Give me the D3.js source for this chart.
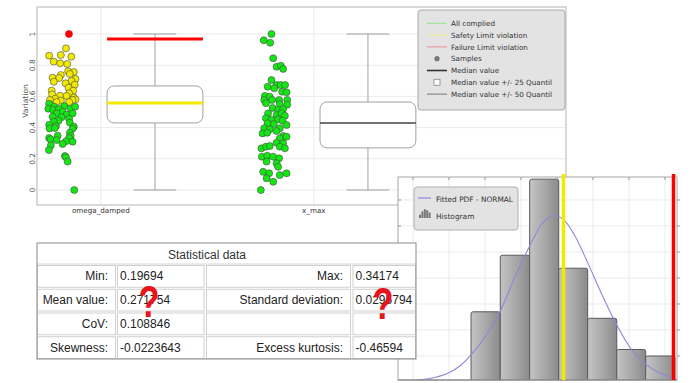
<!DOCTYPE html>
<html>
<head>
<meta charset="utf-8">
<script src="https://cdn.jsdelivr.net/npm/d3@7"></script>
<style>
  html, body { margin: 0; padding: 0; background: #fff; }
  svg { display: block; }
</style>
</head>
<body>
<svg id="chart" width="692" height="383"></svg>
<script>
// ─── Data ────────────────────────────────────────────────────────────────────
const categories = ['omega_damped', 'x_max'];

// samples per variable, jitter is the horizontal spread in category units
const omegaValues = [1.000, 0.908, 0.861, 0.865, 0.855, 0.823, 0.812, 0.808, 0.761, 0.756, 0.744, 0.737,
  0.720, 0.718, 0.712, 0.699, 0.694, 0.684, 0.675, 0.656, 0.637, 0.637, 0.620, 0.613, 0.605, 0.603, 0.594,
  0.585, 0.581, 0.577, 0.573, 0.577, 0.564, 0.564, 0.553, 0.534, 0.538, 0.521, 0.513, 0.519, 0.521, 0.534,
  0.502, 0.491, 0.483, 0.491, 0.470, 0.466, 0.457, 0.444, 0.438, 0.432, 0.419, 0.410, 0.406, 0.395, 0.397,
  0.393, 0.367, 0.346, 0.348, 0.333, 0.325, 0.333, 0.312, 0.310, 0.320, 0.295, 0.286, 0.256, 0.218, 0.210,
  0.182, 0.000];
const omegaJitter = [-0.150, -0.164, -0.243, -0.188, -0.139, -0.222, -0.191, -0.158, -0.154, -0.127, -0.146, -0.188,
  -0.227, -0.196, -0.119, -0.138, -0.221, -0.166, -0.123, -0.152, -0.231, -0.130, -0.149, -0.229, -0.192, -0.161, -0.127,
  -0.215, -0.119, -0.239, -0.188, -0.133, -0.208, -0.149, -0.243, -0.219, -0.172, -0.247, -0.224, -0.197, -0.142, -0.121,
  -0.180, -0.208, -0.161, -0.133, -0.227, -0.185, -0.149, -0.199, -0.221, -0.146, -0.243, -0.211, -0.127, -0.241, -0.216,
  -0.133, -0.146, -0.142, -0.203, -0.243, -0.236, -0.149, -0.164, -0.133, -0.208, -0.180, -0.235, -0.244, -0.169, -0.164,
  -0.156, -0.125];

const xmaxValues = [1.000, 0.960, 0.944, 0.844, 0.790, 0.797, 0.776, 0.705, 0.662, 0.673, 0.673, 0.673, 0.652,
  0.630, 0.626, 0.603, 0.598, 0.577, 0.577, 0.577, 0.577, 0.556, 0.551, 0.547, 0.526, 0.513, 0.519, 0.491, 0.481,
  0.491, 0.476, 0.460, 0.449, 0.453, 0.444, 0.428, 0.423, 0.417, 0.396, 0.389, 0.396, 0.378, 0.363, 0.367, 0.346,
  0.342, 0.331, 0.303, 0.299, 0.267, 0.278, 0.282, 0.278, 0.267, 0.214, 0.220, 0.214, 0.203, 0.182, 0.171, 0.149,
  0.117, 0.107, 0.096, 0.107, 0.075, 0.053, 0.000];
const xmaxJitter = [-0.199, -0.235, -0.205, -0.191, -0.175, -0.155, -0.144, -0.199, -0.217, -0.175, -0.156, -0.135, -0.186,
  -0.149, -0.128, -0.230, -0.207, -0.233, -0.196, -0.163, -0.125, -0.225, -0.160, -0.125, -0.194, -0.168, -0.144, -0.215, -0.175,
  -0.152, -0.136, -0.225, -0.199, -0.168, -0.147, -0.217, -0.188, -0.128, -0.233, -0.207, -0.160, -0.175, -0.241, -0.219, -0.144,
  -0.128, -0.160, -0.175, -0.144, -0.246, -0.225, -0.207, -0.160, -0.136, -0.244, -0.219, -0.191, -0.163, -0.222, -0.175, -0.168,
  -0.238, -0.210, -0.160, -0.128, -0.222, -0.191, -0.249];

const boxLow    = [0.000, 0.000];
const boxQ1     = [0.430, 0.270];
const boxMedian = [0.558, 0.430];
const boxQ3     = [0.667, 0.564];
const boxHigh   = [1.000, 1.000];
const safetyLimit  = [0.556, null];
const failureLimit = [0.968, null];

const yTicks = [0, 0.2, 0.4, 0.6, 0.8, 1];

const legendLabels = ['All complied', 'Safety Limit violation', 'Failure Limit violation', 'Samples',
  'Median value', 'Median value +/- 25 Quantil', 'Median value +/- 50 Quantil'];

// histogram (density) + fitted normal PDF
const histEdges   = [0.1903, 0.2106, 0.2310, 0.2512, 0.2713, 0.2915, 0.3116, 0.3319];
const histDensity = [5.4, 9.75, 15.6, 8.75, 4.9, 2.5, 2.0];
const pdfX = [0.1500, 0.1618, 0.1745, 0.1826, 0.1903, 0.2000, 0.2106, 0.2208, 0.2310, 0.2394, 0.2479,
  0.2556, 0.2625, 0.2713, 0.2810, 0.2915, 0.3019, 0.3116, 0.3227, 0.3326];
const pdfY = [0.12, 0.27, 0.69, 1.23, 2.08, 3.46, 5.46, 8.08, 10.46, 12.15, 12.81,
  12.38, 11.23, 9.18, 6.77, 4.38, 2.46, 1.38, 0.62, 0.27];
const histSafety  = 0.2545;
const histFailure = 0.3309;
const histXTicks = [0.15, 0.175, 0.2, 0.225, 0.25, 0.275, 0.3, 0.325];
const histYTicks = [2, 4, 6, 8, 10, 12, 14];
const histLegend = ['Fitted PDF - NORMAL', 'Histogram'];

// statistics table
const statTitle  = 'Statistical data';
const statLeftLabels  = ['Min:', 'Mean value:', 'CoV:', 'Skewness:'];
const statLeftValues  = ['0.19694', '0.271754', '0.108846', '-0.0223643'];
const statRightLabels = ['Max:', 'Standard deviation:', '', 'Excess kurtosis:'];
const statRightValues = ['0.34174', '0.0295794', '', '-0.46594'];

// ─── Palette ─────────────────────────────────────────────────────────────────
const C = {
  green:   '#14e614',
  yellow:  '#f2ea00',
  red:     '#ff0000',
  grid:    '#ebebeb',
  frame:   '#b4b4b4',
  boxLine: '#a0a0a0',
  text:    '#333',
  axis:    '#555',
  legendBg:'#e3e3e3',
  font:    'DejaVu Sans, Verdana, sans-serif',
  tableFont: 'Liberation Sans, Arial, sans-serif',
};

const svg = d3.select('#chart');

// ─── Box plot panel ──────────────────────────────────────────────────────────
const bp = { left: 37, right: 566, top: 7, bottom: 205 };
const bx = d3.scaleLinear().domain([-0.3, 2.184]).range([bp.left, bp.right]);
const by = d3.scaleLinear().domain([-0.096, 1.173]).range([bp.bottom, bp.top]);

svg.append('rect')
  .attr('x', bp.left).attr('y', bp.top)
  .attr('width', bp.right - bp.left).attr('height', bp.bottom - bp.top)
  .attr('fill', '#fff');

svg.selectAll('line.hgrid').data(yTicks).enter().append('line')
  .attr('x1', bp.left).attr('x2', bp.right)
  .attr('y1', d => by(d)).attr('y2', d => by(d))
  .attr('stroke', C.grid).attr('stroke-width', 1);
svg.selectAll('line.vgrid').data(categories).enter().append('line')
  .attr('x1', (d, i) => bx(i)).attr('x2', (d, i) => bx(i))
  .attr('y1', bp.top).attr('y2', bp.bottom)
  .attr('stroke', C.grid).attr('stroke-width', 1);

svg.append('rect')
  .attr('x', bp.left).attr('y', bp.top)
  .attr('width', bp.right - bp.left).attr('height', bp.bottom - bp.top)
  .attr('fill', 'none').attr('stroke', C.frame);

// y tick labels (rotated)
svg.selectAll('text.ytick').data(yTicks).enter().append('text')
  .attr('transform', d => `translate(34.5,${by(d)}) rotate(-90)`)
  .attr('text-anchor', 'middle').attr('font-size', 7.5)
  .attr('font-family', C.font).attr('fill', C.axis)
  .text(d => String(d));

svg.append('text')
  .attr('transform', 'translate(28,101) rotate(-90)')
  .attr('text-anchor', 'middle').attr('font-size', 7.6)
  .attr('font-family', C.font).attr('fill', C.axis)
  .text('Variation');

svg.selectAll('text.xcat').data(categories).enter().append('text')
  .attr('x', (d, i) => bx(i)).attr('y', 212.5)
  .attr('text-anchor', 'middle').attr('font-size', 7.2)
  .attr('font-family', C.font).attr('fill', C.text)
  .text(d => d);

// boxes
const BOX_OFF = 0.254, BOX_HALF = 0.225, CAP_HALF = 0.1;
categories.forEach((cat, i) => {
  const cx = bx(i + BOX_OFF);
  const x0 = bx(i + BOX_OFF - BOX_HALF), x1 = bx(i + BOX_OFF + BOX_HALF);
  const c0 = bx(i + BOX_OFF - CAP_HALF), c1 = bx(i + BOX_OFF + CAP_HALF);
  const g = svg.append('g');

  g.append('line').attr('x1', cx).attr('x2', cx)
    .attr('y1', by(boxHigh[i])).attr('y2', by(boxQ3[i]))
    .attr('stroke', C.boxLine).attr('stroke-width', 1);
  g.append('line').attr('x1', cx).attr('x2', cx)
    .attr('y1', by(boxQ1[i])).attr('y2', by(boxLow[i]))
    .attr('stroke', C.boxLine).attr('stroke-width', 1);
  [boxHigh[i], boxLow[i]].forEach(v => {
    g.append('line').attr('x1', c0).attr('x2', c1)
      .attr('y1', by(v)).attr('y2', by(v))
      .attr('stroke', C.boxLine).attr('stroke-width', 1.2);
  });

  g.append('rect')
    .attr('x', x0).attr('y', by(boxQ3[i]))
    .attr('width', x1 - x0).attr('height', by(boxQ1[i]) - by(boxQ3[i]))
    .attr('rx', 7).attr('fill', '#fff')
    .attr('stroke', C.boxLine).attr('stroke-width', 1);

  const medViol = safetyLimit[i] != null && boxMedian[i] > safetyLimit[i];
  g.append('line').attr('x1', x0).attr('x2', x1)
    .attr('y1', by(boxMedian[i])).attr('y2', by(boxMedian[i]))
    .attr('stroke', medViol ? C.yellow : '#444').attr('stroke-width', medViol ? 3 : 1.6);

  if (failureLimit[i] != null) {
    g.append('line').attr('x1', x0).attr('x2', x1)
      .attr('y1', by(failureLimit[i])).attr('y2', by(failureLimit[i]))
      .attr('stroke', C.red).attr('stroke-width', 3);
  }
});

// samples
function sampleColor(v, i) {
  if (failureLimit[i] != null && v >= failureLimit[i]) return C.red;
  if (safetyLimit[i] != null && v > safetyLimit[i]) return C.yellow;
  return C.green;
}
[[omegaValues, omegaJitter], [xmaxValues, xmaxJitter]].forEach(([vals, jit], i) => {
  svg.append('g').selectAll('circle').data(vals).enter().append('circle')
    .attr('cx', (d, k) => bx(i + jit[k]))
    .attr('cy', d => by(d))
    .attr('r', 3.5)
    .attr('fill', d => sampleColor(d, i))
    .attr('stroke', d => sampleColor(d, i) === C.red ? '#d00' : '#4a4a4a')
    .attr('stroke-width', 0.6);
});

// legend
const lg = svg.append('g').attr('transform', 'translate(418,10)');
lg.append('rect').attr('width', 147).attr('height', 100).attr('rx', 3)
  .attr('fill', C.legendBg).attr('stroke', '#a8a8a8');
legendLabels.forEach((label, k) => {
  const yy = 13.3 + k * 11.8;
  const row = lg.append('g');
  if (k < 3) {
    row.append('line').attr('x1', 9).attr('x2', 29).attr('y1', yy).attr('y2', yy)
      .attr('stroke', ['#8ee88e', '#eaea8a', '#f29090'][k]).attr('stroke-width', 1);
  } else if (k === 3) {
    row.append('circle').attr('cx', 19).attr('cy', yy).attr('r', 2.6).attr('fill', '#777');
  } else if (k === 4) {
    row.append('line').attr('x1', 9).attr('x2', 29).attr('y1', yy).attr('y2', yy)
      .attr('stroke', '#333').attr('stroke-width', 1.6);
  } else if (k === 5) {
    row.append('rect').attr('x', 16).attr('y', yy - 3).attr('width', 6).attr('height', 6)
      .attr('fill', '#fafafa').attr('stroke', '#888').attr('stroke-width', 0.8);
  } else {
    row.append('line').attr('x1', 9).attr('x2', 29).attr('y1', yy).attr('y2', yy)
      .attr('stroke', '#777').attr('stroke-width', 1);
  }
  row.append('text').attr('x', 33).attr('y', yy + 2.7)
    .attr('font-size', 7.2).attr('font-family', C.font).attr('fill', C.text)
    .text(label);
});

// ─── Histogram panel ─────────────────────────────────────────────────────────
const hp = { left: 398, right: 677, top: 177, bottom: 380 };
const hx = d3.scaleLinear().domain([0.13958, 0.33333]).range([hp.left, hp.right]);
const hy = d3.scaleLinear().domain([0, 15.69]).range([382, 178]);

svg.append('rect')
  .attr('x', hp.left).attr('y', hp.top)
  .attr('width', hp.right - hp.left).attr('height', hp.bottom - hp.top)
  .attr('fill', '#fff');

svg.append('clipPath').attr('id', 'hclip').append('rect')
  .attr('x', hp.left).attr('y', hp.top)
  .attr('width', hp.right - hp.left).attr('height', hp.bottom - hp.top);
const hg = svg.append('g').attr('clip-path', 'url(#hclip)');

hg.selectAll('line.hx').data(histXTicks).enter().append('line')
  .attr('x1', d => hx(d)).attr('x2', d => hx(d))
  .attr('y1', hp.top).attr('y2', hp.bottom)
  .attr('stroke', C.grid);
hg.selectAll('line.hy').data(histYTicks).enter().append('line')
  .attr('x1', hp.left).attr('x2', hp.right)
  .attr('y1', d => hy(d)).attr('y2', d => hy(d))
  .attr('stroke', C.grid);

const grad = svg.append('defs').append('linearGradient').attr('id', 'barGrad')
  .attr('x1', '0%').attr('x2', '100%').attr('y1', '0%').attr('y2', '0%');
grad.append('stop').attr('offset', '0%').attr('stop-color', '#c4c4c4');
grad.append('stop').attr('offset', '55%').attr('stop-color', '#a6a6a6');
grad.append('stop').attr('offset', '100%').attr('stop-color', '#8a8a8a');

hg.selectAll('rect.bar').data(histDensity).enter().append('rect')
  .attr('x', (d, i) => hx(histEdges[i]))
  .attr('y', d => hy(d))
  .attr('width', (d, i) => hx(histEdges[i + 1]) - hx(histEdges[i]))
  .attr('height', d => hy(0) - hy(d))
  .attr('rx', 2)
  .attr('fill', 'url(#barGrad)').attr('stroke', '#5a5a5a').attr('stroke-width', 1);

hg.append('path')
  .datum(pdfX.map((x, i) => [x, pdfY[i]]))
  .attr('d', d3.line().x(d => hx(d[0])).y(d => hy(d[1])).curve(d3.curveMonotoneX))
  .attr('fill', 'none').attr('stroke', '#8a88dc').attr('stroke-width', 1.1);

// frame + ticks
svg.append('rect')
  .attr('x', hp.left).attr('y', hp.top)
  .attr('width', hp.right - hp.left).attr('height', hp.bottom - hp.top)
  .attr('fill', 'none').attr('stroke', '#a8a8a8');
svg.append('line').attr('x1', hp.left).attr('x2', hp.right)
  .attr('y1', hp.bottom).attr('y2', hp.bottom).attr('stroke', '#777');
histYTicks.forEach(t => {
  svg.append('line').attr('x1', hp.left).attr('x2', hp.left + 3)
    .attr('y1', hy(t)).attr('y2', hy(t)).attr('stroke', '#999');
  svg.append('line').attr('x1', hp.right).attr('x2', hp.right + 3)
    .attr('y1', hy(t)).attr('y2', hy(t)).attr('stroke', '#999');
});
histXTicks.forEach(t => {
  svg.append('line').attr('x1', hx(t)).attr('x2', hx(t))
    .attr('y1', hp.top).attr('y2', hp.top + 3).attr('stroke', '#999');
});

// limit markers
[[histSafety, C.yellow], [histFailure, C.red]].forEach(([v, col]) => {
  svg.append('line').attr('x1', hx(v)).attr('x2', hx(v))
    .attr('y1', 174).attr('y2', hp.bottom)
    .attr('stroke', col).attr('stroke-width', 3.5);
});

// histogram legend
const hl = svg.append('g').attr('transform', 'translate(414,187)');
hl.append('rect').attr('width', 104).attr('height', 43).attr('rx', 3)
  .attr('fill', C.legendBg).attr('stroke', '#b0b0b0');
hl.append('line').attr('x1', 4).attr('x2', 17).attr('y1', 11).attr('y2', 11)
  .attr('stroke', '#8a88dc').attr('stroke-width', 1.2);
[3, 6, 8, 7, 5].forEach((h, k) => {
  hl.append('rect').attr('x', 5 + k * 2.4).attr('y', 33 - h * 1.1 - 2)
    .attr('width', 2).attr('height', h * 1.1)
    .attr('fill', '#777');
});
histLegend.forEach((label, k) => {
  hl.append('text').attr('x', 22).attr('y', 14.5 + k * 17)
    .attr('font-size', 7.4).attr('font-family', C.font).attr('fill', C.text)
    .text(label);
});

// ─── Statistics table ────────────────────────────────────────────────────────
const tb = { left: 37, right: 416, top: 243, head: 264, bottom: 359 };
const colEdges = [[37, 116], [117, 204.5], [206, 351], [352.5, 416]];
const rowH = (tb.bottom - tb.head) / statLeftLabels.length;

const tg = svg.append('g');
tg.append('rect').attr('x', tb.left).attr('y', tb.top)
  .attr('width', tb.right - tb.left).attr('height', tb.bottom - tb.top)
  .attr('fill', '#fff');
tg.append('line').attr('x1', tb.left).attr('x2', tb.right)
  .attr('y1', tb.head).attr('y2', tb.head).attr('stroke', '#d4d4d4');
tg.append('text').attr('x', 207).attr('y', 258.5)
  .attr('text-anchor', 'middle').attr('font-size', 12)
  .attr('font-family', C.tableFont).attr('fill', C.text)
  .text(statTitle);

statLeftLabels.forEach((lbl, r) => {
  const y0 = tb.head + 1 + r * rowH;
  const texts = [statLeftLabels[r], statLeftValues[r], statRightLabels[r], statRightValues[r]];
  colEdges.forEach(([a, b], c) => {
    tg.append('rect').attr('x', a + 0.5).attr('y', y0 + 0.5)
      .attr('width', b - a - 1).attr('height', rowH - 2)
      .attr('fill', '#fff').attr('stroke', '#d0d0d0');
    const isLabel = c % 2 === 0;
    tg.append('text')
      .attr('x', isLabel ? b - 8 : a + 3)
      .attr('y', y0 + rowH / 2 + 3.6)
      .attr('text-anchor', isLabel ? 'end' : 'start')
      .attr('font-size', 12).attr('font-family', C.tableFont).attr('fill', '#222')
      .text(texts[c]);
  });
});

tg.append('rect').attr('x', tb.left).attr('y', tb.top)
  .attr('width', tb.right - tb.left).attr('height', tb.bottom - tb.top)
  .attr('fill', 'none').attr('stroke', '#8a8a8a');

// question marks over hidden digits
[[149, 317], [383, 318.5]].forEach(([qx, qy]) => {
  svg.append('text')
    .attr('transform', `translate(${qx},${qy}) scale(0.78,1)`)
    .attr('text-anchor', 'middle').attr('font-size', 44).attr('font-weight', 'bold')
    .attr('font-family', 'Liberation Sans, Arial, sans-serif').attr('fill', '#e8141c')
    .text('?');
});
</script>
</body>
</html>
